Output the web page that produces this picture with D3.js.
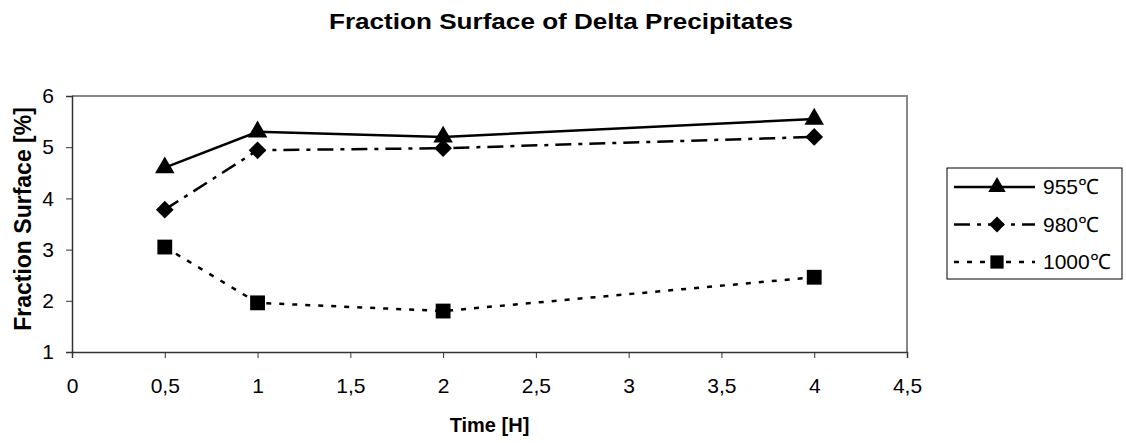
<!DOCTYPE html>
<html lang="en">
<head>
<meta charset="UTF-8">
<title>Fraction Surface of Delta Precipitates</title>
<script src="https://d3js.org/d3.v7.min.js"></script>
<style>
    body { margin: 0; background: #fff; }
    text { font-family: "Liberation Sans", Arial, sans-serif; fill: #000; }
</style>
</head>
<body>
<script>
    // Data
    let times = [0.5, 1, 2, 4];
    let seriesNames = ["955\u2103", "980\u2103", "1000\u2103"];
    let values955 = [4.6, 5.3, 5.2, 5.55];
    let values980 = [3.78, 4.94, 4.98, 5.2];
    let values1000 = [3.05, 1.96, 1.8, 2.46];
    let xTicks = [0, 0.5, 1, 1.5, 2, 2.5, 3, 3.5, 4, 4.5];
    let yTicks = [1, 2, 3, 4, 5, 6];

    let width = 1126, height = 443;
    let plot = {left: 72, top: 96, right: 907, bottom: 352};

    let svg = d3.select("body").append("svg")
        .attr("width", width)
        .attr("height", height);

    let x = d3.scaleLinear().domain([0, 4.5]).range([plot.left, plot.right]);
    let y = d3.scaleLinear().domain([1, 6]).range([plot.bottom, plot.top]);

    // Title
    svg.append("text")
        .attr("x", 561).attr("y", 29)
        .attr("text-anchor", "middle")
        .attr("font-size", 22).attr("font-weight", "bold")
        .attr("textLength", 464).attr("lengthAdjust", "spacingAndGlyphs")
        .text("Fraction Surface of Delta Precipitates");

    // plot area border (top and right grey)
    svg.append("path")
        .attr("d", `M${plot.left},${plot.top}H${plot.right}V${plot.bottom}`)
        .attr("fill", "none").attr("stroke", "#888").attr("stroke-width", 2);

    // axes
    let xAxis = svg.append("g")
        .attr("transform", `translate(0,${plot.bottom})`)
        .call(d3.axisBottom(x).tickValues(xTicks).tickSize(6).tickPadding(20)
            .tickFormat(d => String(d).replace(".", ",")));
    let yAxis = svg.append("g")
        .attr("transform", `translate(${plot.left},0)`)
        .call(d3.axisLeft(y).tickValues(yTicks).tickSize(6).tickPadding(12)
            .tickFormat(d3.format("d")));

    [xAxis, yAxis].forEach(g => {
        g.attr("font-size", 21).attr("font-family", "Liberation Sans, Arial, sans-serif");
        g.select(".domain").attr("stroke", "#333").attr("stroke-width", 1.5);
        g.selectAll(".tick line").attr("stroke", "#333");
        g.selectAll(".tick text").attr("fill", "#000");
    });

    // axis titles
    svg.append("text")
        .attr("x", (plot.left + plot.right) / 2).attr("y", 432)
        .attr("text-anchor", "middle")
        .attr("font-size", 20).attr("font-weight", "bold")
        .text("Time [H]");
    svg.append("text")
        .attr("transform", `translate(31,${(plot.top + plot.bottom) / 2 - 5}) rotate(-90)`)
        .attr("text-anchor", "middle")
        .attr("font-size", 23).attr("font-weight", "bold")
        .text("Fraction Surface [%]");

    // series
    let series = [
        {name: seriesNames[0], values: values955, dash: null, marker: d3.symbolTriangle, size: 165},
        {name: seriesNames[1], values: values980, dash: "16,7,4,7", marker: d3.symbolDiamond2, size: 200},
        {name: seriesNames[2], values: values1000, dash: "5,8", marker: d3.symbolSquare, size: 220}
    ];

    let line = d3.line().x((d, i) => x(times[i])).y(d => y(d));

    series.forEach(s => {
        svg.append("path")
            .attr("d", line(s.values))
            .attr("fill", "none")
            .attr("stroke", "#000")
            .attr("stroke-width", 2.5)
            .attr("stroke-dasharray", s.dash);
        svg.selectAll(null)
            .data(s.values)
            .enter().append("path")
            .attr("d", d3.symbol().type(s.marker).size(s.size))
            .attr("transform", (d, i) => `translate(${x(times[i])},${y(d)})`)
            .attr("fill", "#000");
    });

    // legend
    let legend = svg.append("g").attr("transform", "translate(947,168)");
    legend.append("rect")
        .attr("width", 175).attr("height", 111)
        .attr("fill", "#fff").attr("stroke", "#000").attr("stroke-width", 1);

    series.forEach((s, i) => {
        let ly = 19 + i * 37.5;
        legend.append("line")
            .attr("x1", 7).attr("x2", 88)
            .attr("y1", ly).attr("y2", ly)
            .attr("stroke", "#000").attr("stroke-width", 2.5)
            .attr("stroke-dasharray", s.dash);
        legend.append("path")
            .attr("d", d3.symbol().type(s.marker).size(s.size * 0.8))
            .attr("transform", `translate(50,${ly})`)
            .attr("fill", "#000");
        legend.append("text")
            .attr("x", 96).attr("y", ly + 7)
            .attr("font-size", 21)
            .text(s.name);
    });
</script>
</body>
</html>
